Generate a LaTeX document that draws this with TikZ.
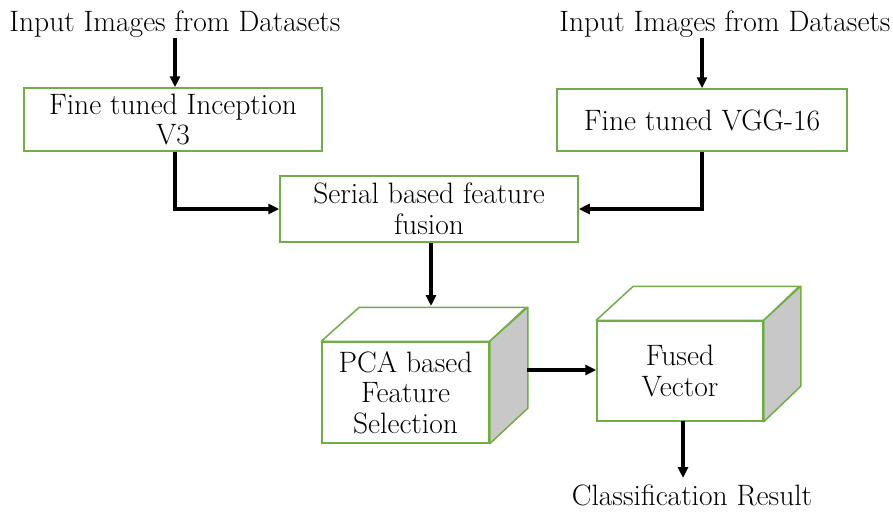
\documentclass[tikz,border=0pt]{standalone}
\usepackage{fontspec}
\usetikzlibrary{arrows.meta,calc}
\definecolor{boxgreen}{RGB}{112,173,71}
\definecolor{sidegray}{RGB}{200,200,200}
\begin{document}
\begin{tikzpicture}[x=1pt,y=-1pt,
  lbl/.style={font=\rmfamily\fontsize{29.5}{30.5}\selectfont, inner sep=0pt, align=center},
  gbox/.style={lbl, draw=boxgreen, line width=1.5pt, fill=white},
  face/.style={draw=boxgreen, line width=1.5pt, line join=round},
  conn/.style={line width=3.2pt, -{Triangle[length=11pt,width=10pt]}},
]
\useasboundingbox (0,0) rectangle (893,511);
% texts
\node[lbl, anchor=base] (in1) at (175,32) {Input Images from Datasets};
\node[lbl, anchor=base] (in2) at (725,32) {Input Images from Datasets};
\node[lbl, anchor=base] (cls) at (692,505) {Classification Result};
% boxes
\node[gbox, minimum width=298pt, minimum height=63pt] (b1) at (173,119.5) {Fine tuned Inception\\V3};
\node[gbox, minimum width=290pt, minimum height=62pt] (b2) at (702,120) {Fine tuned VGG-16};
\node[gbox, minimum width=298pt, minimum height=66pt] (ser) at (429,209) {Serial based feature\\fusion};
% cube 1
\node[gbox, minimum width=167pt, minimum height=101pt] (c1) at (405.5,392.5) {PCA based\\Feature\\Selection};
\draw[face, fill=white] (c1.north west) -- ++(38,-34) -- ++(167,0) -- (c1.north east) -- cycle;
\draw[face, fill=sidegray] (c1.north east) -- ++(38,-34) -- ++(0,101) -- (c1.south east) -- cycle;
% cube 2
\node[gbox, minimum width=166pt, minimum height=100pt] (c2) at (680,371) {Fused\\Vector};
\draw[face, fill=white] (c2.north west) -- ++(37,-34) -- ++(166,0) -- (c2.north east) -- cycle;
\draw[face, fill=sidegray] (c2.north east) -- ++(37,-34) -- ++(0,100) -- (c2.south east) -- cycle;
% coordinates
\coordinate (s1) at (175,38);
\coordinate (s2) at (702,38);
\coordinate (c1top) at (431,306);
\coordinate (c1side) at (527,370);
% connectors
\draw[conn] (s1) -- (s1 |- b1.north);
\draw[conn] (s2) -- (s2 |- b2.north);
\draw[conn] (s1 |- b1.south) |- (ser.west);
\draw[conn] (s2 |- b2.south) |- (ser.east);
\draw[conn] (c1top |- ser.south) -- (c1top);
\draw[conn] (c1side) -- (c2.west |- c1side);
\draw[conn] (683,421) -- (683,478);
\end{tikzpicture}
\end{document}
